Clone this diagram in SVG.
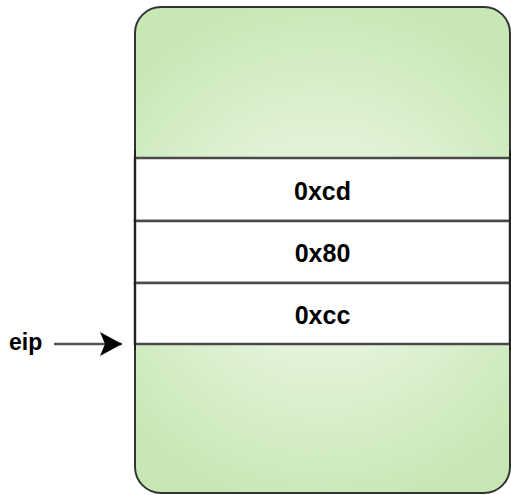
<svg xmlns="http://www.w3.org/2000/svg" width="511" height="495" viewBox="0 0 511 495">
  <defs>
    <radialGradient id="greenFill" gradientUnits="userSpaceOnUse" cx="322" cy="252" r="260" fx="322" fy="252">
      <stop offset="0" stop-color="#f2faee"/>
      <stop offset="0.45" stop-color="#e0f2d6"/>
      <stop offset="1" stop-color="#c8e7b5"/>
    </radialGradient>
    <marker id="arrowHead" markerUnits="userSpaceOnUse" markerWidth="24" markerHeight="26" refX="22" refY="12" orient="auto">
      <path d="M0,0 L22,12 L0,24 L5,12 Z" fill="#000"/>
    </marker>
    <style>
      .frame { fill: url(#greenFill); stroke: #333; stroke-width: 2; }
      .cell { fill: #fff; stroke: #4a4a4a; stroke-width: 2.5; }
      .val { font-family: "Liberation Sans", Arial, sans-serif; font-weight: bold; font-size: 25px; fill: #000; text-anchor: middle; }
      .label { font-family: "Liberation Sans", Arial, sans-serif; font-weight: bold; font-size: 23px; fill: #000; }
      .conn { stroke: #4f5a4f; stroke-width: 2.5; fill: none; }
    </style>
  </defs>

  <!-- memory block -->
  <g id="memory">
    <rect class="frame" x="135" y="7" width="375" height="486" rx="26" ry="26"/>
  </g>

  <!-- byte cells -->
  <g id="cell-cd">
    <rect class="cell" x="135" y="158" width="375" height="63"/>
    <text class="val" x="322.5" y="200">0xcd</text>
  </g>
  <g id="cell-80">
    <rect class="cell" x="135" y="221" width="375" height="62"/>
    <text class="val" x="322.5" y="262">0x80</text>
  </g>
  <g id="cell-cc">
    <rect class="cell" x="135" y="283" width="375" height="61"/>
    <text class="val" x="322.5" y="324">0xcc</text>
  </g>

  <!-- redraw left/right frame edges over the cells -->
  <g id="frame-edges">
    <line x1="135" y1="150" x2="135" y2="350" stroke="#222" stroke-width="2"/>
    <line x1="510" y1="150" x2="510" y2="350" stroke="#222" stroke-width="2"/>
  </g>

  <!-- instruction pointer label -->
  <g id="eip">
    <text class="label" x="9" y="350">eip</text>
  </g>

  <g id="connectors">
    <line class="conn" x1="54" y1="344" x2="122" y2="344" marker-end="url(#arrowHead)"/>
  </g>
</svg>
